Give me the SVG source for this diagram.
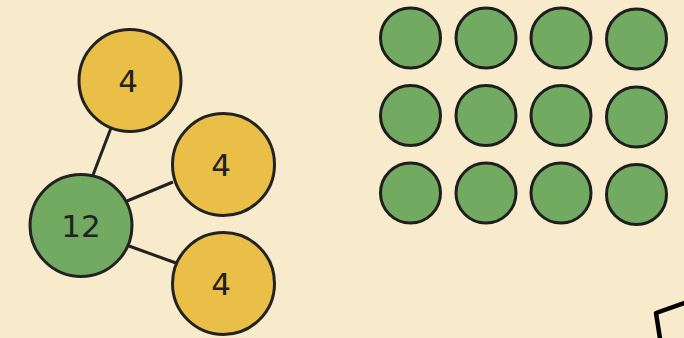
<svg xmlns="http://www.w3.org/2000/svg" width="684" height="338" viewBox="0 0 684 338">
<style>
.y{fill:#e9bf48;stroke:#222;stroke-width:3}
.g{fill:#72aa62;stroke:#222;stroke-width:3}
.d{fill:#72aa62;stroke:#1e1e1e;stroke-width:3}
.t{font-family:"Comic Sans MS","DejaVu Sans",sans-serif;font-size:31px;fill:#222;text-anchor:middle;dominant-baseline:central}
.c{stroke:#222;stroke-width:3;fill:none}
</style>
<rect width="684" height="338" fill="#f8ebcb"/>
<g id="connectors">
<line class="c" x1="111" y1="128" x2="93" y2="175"/>
<line class="c" x1="127" y1="201" x2="173" y2="182"/>
<line class="c" x1="129" y1="246" x2="176" y2="263"/>
</g>
<g id="n4a"><circle class="y" cx="130" cy="80.5" r="51"/><text class="t" x="128" y="81">4</text></g>
<g id="n4b"><circle class="y" cx="223.5" cy="164.5" r="51"/><text class="t" x="221" y="165">4</text></g>
<g id="n4c"><circle class="y" cx="223.5" cy="283.5" r="51"/><text class="t" x="221" y="284">4</text></g>
<g id="n12"><circle class="g" cx="81" cy="225.5" r="51"/><text class="t" x="81" y="226">12</text></g>
<g id="dots">
<circle class="d" cx="410.5" cy="38" r="30"/>
<circle class="d" cx="486" cy="38" r="30"/>
<circle class="d" cx="561" cy="38" r="30"/>
<circle class="d" cx="636.5" cy="39" r="30"/>
<circle class="d" cx="410.5" cy="115.5" r="30"/>
<circle class="d" cx="486" cy="115.5" r="30"/>
<circle class="d" cx="561" cy="115.5" r="30"/>
<circle class="d" cx="636.5" cy="117" r="30"/>
<circle class="d" cx="410.5" cy="193" r="30"/>
<circle class="d" cx="486" cy="193" r="30"/>
<circle class="d" cx="561" cy="193" r="30"/>
<circle class="d" cx="636.5" cy="194.5" r="30"/>
</g>
<g id="corner"><path d="M690 301 L656 313 L661 345" fill="none" stroke="#000" stroke-width="4.5" stroke-linejoin="round"/></g>
</svg>
